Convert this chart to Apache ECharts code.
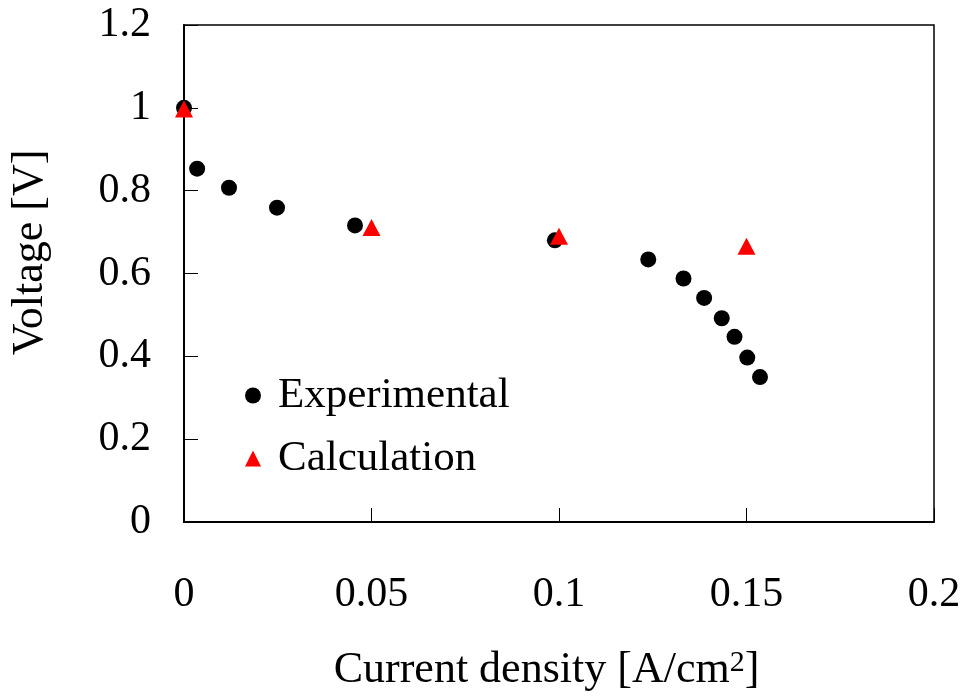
<!DOCTYPE html>
<html>
<head>
<meta charset="utf-8">
<script src="https://cdn.jsdelivr.net/npm/echarts@6/dist/echarts.min.js"></script>
<style>
  html, body { margin: 0; padding: 0; background: #fff; }
  #chart { width: 967px; height: 697px; }
</style>
</head>
<body>
<div id="chart"></div>
<script>
// Current density [A/cm2] vs. cell voltage [V]
const expCurrent = [0, 0.0035, 0.012, 0.0248, 0.0456, 0.0989, 0.1238, 0.1332, 0.1387, 0.1434, 0.1468, 0.1502, 0.1536];
const expVoltage = [1.0, 0.853, 0.807, 0.759, 0.716, 0.680, 0.634, 0.588, 0.541, 0.492, 0.447, 0.397, 0.350];

const calcCurrent = [0, 0.05, 0.1, 0.15];
const calcVoltage = [0.997, 0.711, 0.690, 0.666];

const xTicks = [0, 0.05, 0.1, 0.15, 0.2];
const yTicks = [0, 0.2, 0.4, 0.6, 0.8, 1, 1.2];

const FONT = '"Liberation Serif", "Times New Roman", serif';

const pairs = (xs, ys) => xs.map((x, i) => [x, ys[i]]);

const chart = echarts.init(document.getElementById('chart'), null, { renderer: 'canvas' });

chart.setOption({
  backgroundColor: '#ffffff',
  animation: false,
  grid: {
    left: 184, right: 33, top: 25, bottom: 174,
    show: true, borderColor: '#000', borderWidth: 1.5, backgroundColor: 'transparent'
  },
  legend: {
    orient: 'vertical',
    left: 240, top: 369,
    itemWidth: 16, itemHeight: 16,
    itemGap: 20,
    textStyle: { fontFamily: FONT, fontSize: 43, color: '#000', padding: [0, 0, 0, 12] },
    data: [
      { name: 'Experimental', icon: 'circle' },
      { name: 'Calculation', icon: 'triangle' }
    ]
  },
  xAxis: {
    type: 'value',
    min: xTicks[0], max: xTicks[xTicks.length - 1], interval: 0.05,
    axisLine: { show: true, lineStyle: { color: '#000', width: 2 } },
    axisTick: { show: true, inside: true, length: 14, lineStyle: { color: '#000', width: 1 } },
    splitLine: { show: false },
    axisLabel: {
      fontFamily: FONT, fontSize: 42, color: '#000', margin: 52,
      formatter: v => xTicks.includes(+v.toFixed(4)) ? String(+v.toFixed(4)) : ''
    },
    name: 'Current density [A/cm{sup|2}]',
    nameLocation: 'middle',
    nameGap: 126,
    nameTextStyle: {
      fontFamily: FONT, fontSize: 44, color: '#000',
      padding: [0, 25, 0, 0],
      rich: { sup: { fontFamily: FONT, fontSize: 30, color: '#000', verticalAlign: 'top', padding: [0, 0, 14, 0] } }
    }
  },
  yAxis: {
    type: 'value',
    min: yTicks[0], max: yTicks[yTicks.length - 1], interval: 0.2,
    axisLine: { show: true, lineStyle: { color: '#000', width: 2 } },
    axisTick: { show: true, inside: true, length: 14, lineStyle: { color: '#000', width: 1 } },
    splitLine: { show: false },
    axisLabel: {
      fontFamily: FONT, fontSize: 42, color: '#000', margin: 33,
      formatter: v => String(+v.toFixed(4))
    },
    name: 'Voltage [V]',
    nameLocation: 'middle',
    nameGap: 132,
    nameTextStyle: { fontFamily: FONT, fontSize: 44, color: '#000', padding: [0, 0, 0, 42] }
  },
  series: [
    {
      name: 'Experimental',
      type: 'scatter',
      symbol: 'circle',
      symbolSize: 16,
      itemStyle: { color: '#000', opacity: 1 },
      data: pairs(expCurrent, expVoltage),
      z: 2
    },
    {
      name: 'Calculation',
      type: 'scatter',
      symbol: 'triangle',
      symbolSize: [18, 17],
      itemStyle: { color: '#ff0000', opacity: 1 },
      data: pairs(calcCurrent, calcVoltage),
      z: 3
    }
  ]
});
</script>
</body>
</html>
